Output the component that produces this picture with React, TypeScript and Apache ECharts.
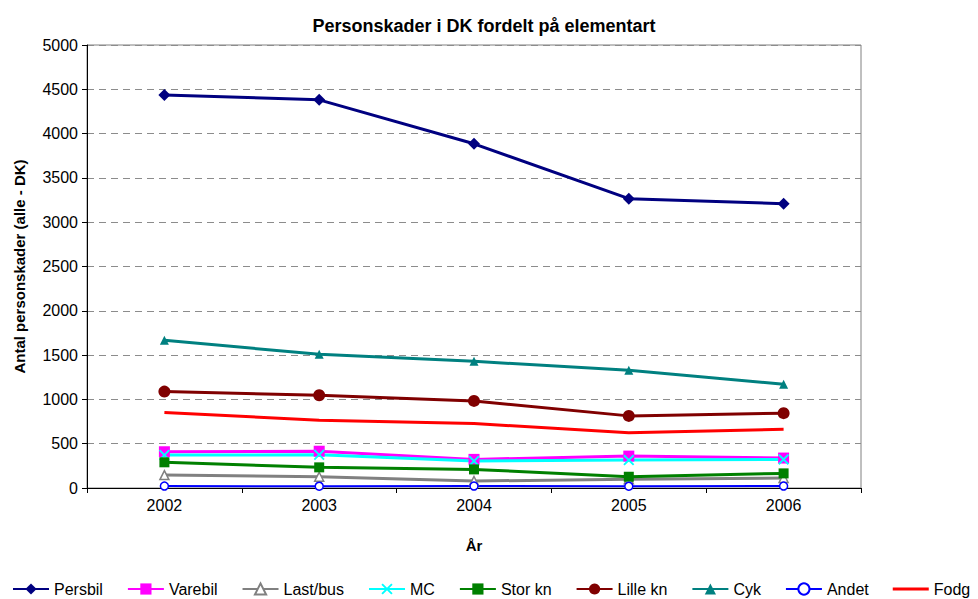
import React, { useEffect, useRef } from "react";
import * as echarts from "echarts";

const years = ["2002", "2003", "2004", "2005", "2006"];
const persbil = [4437, 4381, 3885, 3266, 3209];
const varebil = [409, 415, 323, 360, 338];
const lastbus = [146, 127, 79, 98, 113];
const mc = [372, 375, 304, 315, 323];
const storKn = [290, 233, 210, 127, 165];
const lilleKn = [1088, 1047, 983, 814, 845];
const cyk = [1667, 1509, 1430, 1329, 1171];
const andet = [22, 20, 22, 20, 22];
const fodg = [852, 766, 728, 623, 664];

const xPath =
  "path://M0,1.2L1.2,0L5,3.8L8.8,0L10,1.2L6.2,5L10,8.8L8.8,10L5,6.2L1.2,10L0,8.8L3.8,5Z";
const lineIcon = "path://M0,0L0.1,0L0,0.1Z M0,5.5H36V8.5H0Z M36,14L35.9,14L36,13.9Z";

export default function App() {
  const ref = useRef<HTMLDivElement>(null);
  useEffect(() => {
    if (!ref.current) return;
    const chart = echarts.init(ref.current, undefined, { renderer: "svg" });
    const font = "'Liberation Sans', Arial, sans-serif";
    const mk = (
      name: string,
      data: number[],
      color: string,
      symbol: string,
      symbolSize: number,
      extra: any = {}
    ) => ({
      name,
      type: "line",
      data,
      symbol,
      symbolSize,
      showSymbol: symbol !== "none",
      lineStyle: { color, width: 3 },
      itemStyle: { color, borderColor: color, borderWidth: 0 },
      ...extra,
    });
    const names = ["Persbil", "Varebil", "Last/bus", "MC", "Stor kn", "Lille kn", "Cyk", "Andet"];
    chart.setOption({
      animation: false,
      textStyle: { fontFamily: font },
      title: {
        text: "Personskader i DK fordelt på elementart",
        left: 479,
        textAlign: "center",
        top: 12,
        textStyle: { fontSize: 18, fontWeight: "bold", color: "#000", fontFamily: font },
      },
      grid: { left: 87, right: 117, top: 45, bottom: 111, show: true, borderColor: "#808080", borderWidth: 1 },
      legend: {
        left: 7,
        top: 576,
        width: 1400,
        itemWidth: 36,
        itemHeight: 14,
        itemGap: 24,
        textStyle: { fontSize: 16, color: "#000", fontFamily: font },
        data: [...names.map((n) => ({ name: n })), { name: "Fodg", icon: lineIcon }],
      },
      xAxis: {
        type: "category",
        data: years,
        boundaryGap: true,
        name: "År",
        nameLocation: "middle",
        nameGap: 50,
        nameTextStyle: { fontSize: 15, fontWeight: "bold", color: "#000" },
        axisLine: { lineStyle: { color: "#000", width: 1 } },
        axisTick: { show: true, length: 5, lineStyle: { color: "#000" } },
        axisLabel: { fontSize: 16, color: "#000", margin: 9 },
      },
      yAxis: {
        type: "value",
        min: 0,
        max: 5000,
        interval: 500,
        name: "Antal personskader (alle - DK)",
        nameLocation: "middle",
        nameGap: 60,
        nameTextStyle: { fontSize: 15, fontWeight: "bold", color: "#000" },
        axisLine: { show: true, lineStyle: { color: "#000", width: 1 } },
        axisTick: { show: true, length: 5, lineStyle: { color: "#000" } },
        axisLabel: { fontSize: 16, color: "#000", margin: 9, formatter: (v: number) => String(v) },
        splitLine: { show: true, lineStyle: { color: "#8c8c8c", type: [7, 5], width: 1 } },
      },
      series: [
        mk("Persbil", persbil, "#000080", "diamond", 12),
        mk("Varebil", varebil, "#FF00FF", "rect", 11),
        mk("Last/bus", lastbus, "#808080", "triangle", 9, {
          itemStyle: { color: "#fff", borderColor: "#808080", borderWidth: 1.5 },
        }),
        mk("MC", mc, "#00FFFF", xPath, 11),
        mk("Stor kn", storKn, "#008000", "rect", 10),
        mk("Lille kn", lilleKn, "#800000", "circle", 12),
        mk("Cyk", cyk, "#008080", "triangle", 9),
        mk("Andet", andet, "#0000FF", "circle", 8, {
          lineStyle: { color: "#0000FF", width: 2 },
          itemStyle: { color: "#fff", borderColor: "#0000FF", borderWidth: 1.5 },
        }),
        mk("Fodg", fodg, "#FF0000", "none", 0),
      ],
    });
    return () => chart.dispose();
  }, []);
  return <div ref={ref} style={{ width: 978, height: 599, position: "absolute", left: 0, top: 0 }} />;
}
